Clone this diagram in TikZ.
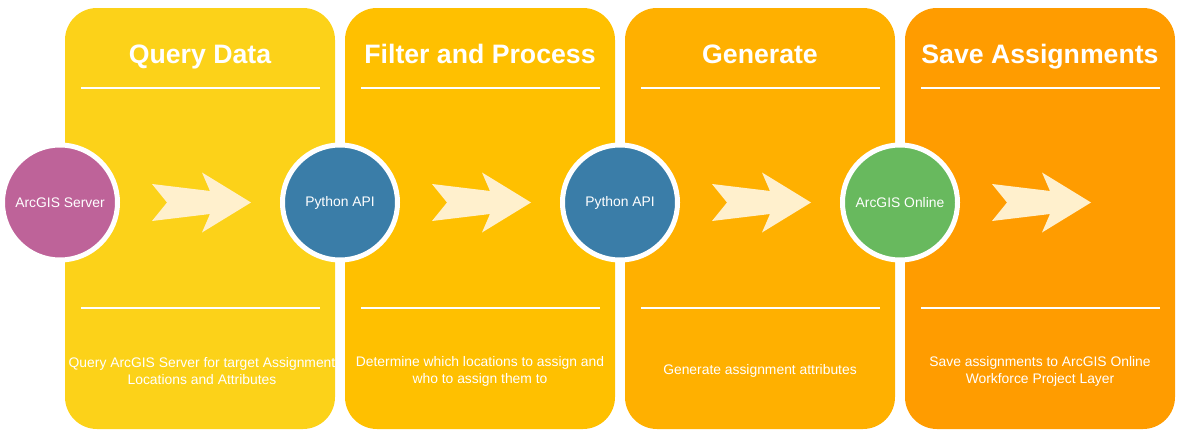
\documentclass[tikz,border=0pt]{standalone}
\usepackage{fontspec}
\setmainfont{Liberation Sans}
\usepackage{tikz}
\usetikzlibrary{calc, positioning}
\definecolor{panelA}{HTML}{FCD219}
\definecolor{panelB}{HTML}{FFC000}
\definecolor{panelC}{HTML}{FFB000}
\definecolor{panelD}{HTML}{FF9C00}
\definecolor{arrowCream}{HTML}{FFF0CD}
\definecolor{serverPink}{HTML}{BE6399}
\definecolor{apiBlue}{HTML}{3A7DA8}
\definecolor{onlineGreen}{HTML}{68B95E}
\tikzstyle{panel} = [rectangle, rounded corners=24pt, minimum width=202.5pt, minimum height=315.75pt, inner sep=0pt, outer sep=0pt]
\tikzstyle{hub} = [circle, draw=white, line width=3.75pt, minimum size=86.25pt, inner sep=0pt, text=white, font=\fontsize{10.4}{12.5}\selectfont]
\tikzstyle{title} = [anchor=base, text=white, font=\bfseries\fontsize{20}{24}\selectfont]
\tikzstyle{desc} = [align=center, text=white, font=\fontsize{10.4}{12.75}\selectfont]
\tikzstyle{rule} = [white, line width=1.5pt]
\tikzstyle{chevron} = [fill=arrowCream]

\begin{document}
\begin{tikzpicture}[x=0.75pt, y=-0.75pt]
		\useasboundingbox (0,0) rectangle (1186,439);
		\node (QueryData) [panel, fill=panelA] at (200,218.5) {};
		\node (FilterProcess) [panel, fill=panelB, right = 7.5pt of QueryData] {};
		\node (Generate) [panel, fill=panelC, right = 7.5pt of FilterProcess] {};
		\node (SaveAssign) [panel, fill=panelD, right = 7.5pt of Generate] {};

		\foreach \panel in {QueryData,FilterProcess,Generate,SaveAssign}{
			\draw [rule] ($(\panel.north west)+(16,80)$) -- ($(\panel.north east)+(-15,80)$);
			\draw [rule] ($(\panel.south west)+(16,-121)$) -- ($(\panel.south east)+(-15,-121)$);
			\fill [chevron, shift={($(\panel.center)+(0,-16)$)}] (-48,-18.5) -- (10,-11.5) -- (2,-30) -- (51,0) -- (2,30) -- (10,11.5) -- (-48,18.5) -- (-33,0) -- cycle;
		}

		\node (QueryTitle) [title] at ($(QueryData.north)+(0,55)$) {Query Data};
		\node (FilterTitle) [title] at ($(FilterProcess.north)+(0,55)$) {Filter and Process};
		\node (GenerateTitle) [title] at ($(Generate.north)+(0,55)$) {Generate};
		\node (SaveTitle) [title] at ($(SaveAssign.north)+(0,55)$) {Save Assignments};

		\node (ServerHub) [hub, fill=serverPink] at ($(QueryData.west)+(-5,-16)$) {ArcGIS Server};
		\node (PythonHubA) [hub, fill=apiBlue] at ($(QueryData.east)!0.5!(FilterProcess.west)+(0,-16)$) {Python API};
		\node (PythonHubB) [hub, fill=apiBlue] at ($(FilterProcess.east)!0.5!(Generate.west)+(0,-16)$) {Python API};
		\node (OnlineHub) [hub, fill=onlineGreen] at ($(Generate.east)!0.5!(SaveAssign.west)+(0,-16)$) {ArcGIS Online};

		\node (QueryText) [desc] at ($(QueryData.south)+(2,-58)$) {Query ArcGIS Server for target Assignment\\Locations and Attributes};
		\node (FilterText) [desc] at ($(FilterProcess.south)+(0,-58)$) {Determine which locations to assign and\\who to assign them to};
		\node (GenerateText) [desc] at ($(Generate.south)+(0,-58)$) {Generate assignment attributes};
		\node (SaveText) [desc] at ($(SaveAssign.south)+(0,-58)$) {Save assignments to ArcGIS Online\\Workforce Project Layer};
\end{tikzpicture}
\end{document}
